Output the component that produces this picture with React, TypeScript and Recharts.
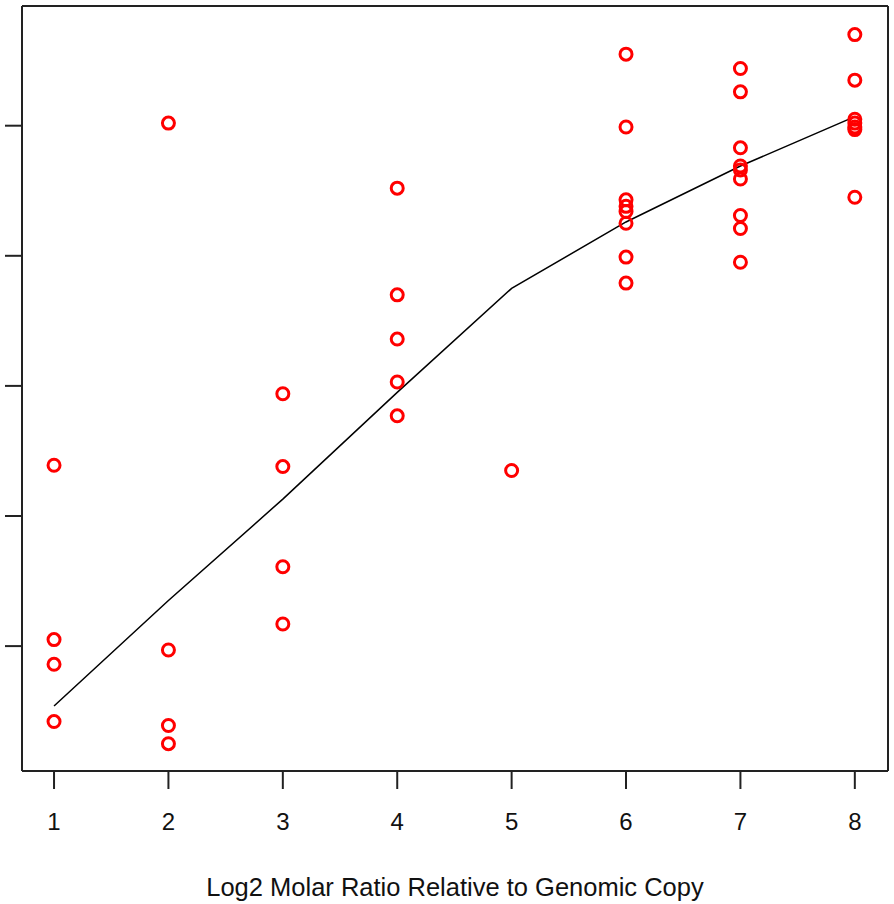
import React from "react";
import {
  ComposedChart,
  Scatter,
  Line,
  XAxis,
  YAxis,
} from "recharts";

// observed values per log2 molar ratio (y axis has no labels in the original)
const xTicks = [1, 2, 3, 4, 5, 6, 7, 8];
const yTicks = [1, 2, 3, 4, 5];

const obsAt1 = [2.39, 1.05, 0.86, 0.42];
const obsAt2 = [5.02, 0.97, 0.39, 0.25];
const obsAt3 = [2.94, 2.38, 1.61, 1.17];
const obsAt4 = [4.52, 3.7, 3.36, 3.03, 2.77];
const obsAt5 = [2.35];
const obsAt6 = [5.55, 4.99, 4.43, 4.38, 4.34, 4.25, 3.99, 3.79];
const obsAt7 = [5.44, 5.26, 4.83, 4.69, 4.66, 4.59, 4.31, 4.21, 3.95];
const obsAt8 = [5.7, 5.35, 5.05, 5.02, 4.99, 4.97, 4.45];

// fitted curve, one value per x
const fitted = [0.54, 1.35, 2.13, 2.95, 3.75, 4.26, 4.69, 5.07];

const observed = [obsAt1, obsAt2, obsAt3, obsAt4, obsAt5, obsAt6, obsAt7, obsAt8];

const pointData = observed.flatMap((vals, i) =>
  vals.map((y) => ({ x: xTicks[i], y }))
);
const fitData = xTicks.map((x, i) => ({ x, y: fitted[i] }));

const xDomain = [0.72, 8.29];
const yDomain = [0.04, 5.92];

const font = "'Liberation Sans', Arial, sans-serif";
const boxColor = "#222";

const RedRing = (props: any) => {
  const { cx, cy } = props;
  if (cx == null || cy == null) return <g />;
  return <circle cx={cx} cy={cy} r={6} fill="none" stroke="#ff0000" strokeWidth={3} />;
};

const App = () => {
  return (
    <div style={{ position: "absolute", left: 0, top: 0, background: "#fff" }}>
      <ComposedChart
        width={894}
        height={904}
        margin={{ top: 5, right: 5, left: 0, bottom: 0 }}
      >
        <XAxis
          dataKey="x"
          type="number"
          domain={xDomain}
          ticks={xTicks}
          allowDataOverflow
          height={133}
          tickSize={18}
          tickMargin={24}
          stroke={boxColor}
          strokeWidth={2}
          tick={{ fill: "#111", fontSize: 24, fontFamily: font }}
          label={{
            value: "Log2 Molar Ratio Relative to Genomic Copy",
            position: "insideBottom",
            offset: 8,
            fill: "#111",
            fontSize: 25.5,
            fontFamily: font,
          }}
        />
        <XAxis
          xAxisId="top"
          dataKey="x"
          orientation="top"
          type="number"
          domain={xDomain}
          allowDataOverflow
          height={1}
          tick={false}
          tickLine={false}
          stroke={boxColor}
          strokeWidth={2}
        />
        <YAxis
          type="number"
          domain={yDomain}
          ticks={yTicks}
          allowDataOverflow
          width={22}
          tickSize={17}
          stroke={boxColor}
          strokeWidth={2}
          tick={() => <g />}
        />
        <YAxis
          yAxisId="right"
          orientation="right"
          type="number"
          domain={yDomain}
          allowDataOverflow
          width={1}
          tick={false}
          tickLine={false}
          stroke={boxColor}
          strokeWidth={2}
        />
        <Line
          data={fitData}
          dataKey="y"
          stroke="#000"
          strokeWidth={1.5}
          dot={false}
          activeDot={false}
          isAnimationActive={false}
        />
        <Scatter
          xAxisId="top"
          yAxisId="right"
          data={pointData}
          dataKey="y"
          shape={RedRing}
          isAnimationActive={false}
        />
      </ComposedChart>
    </div>
  );
};

export default App;
